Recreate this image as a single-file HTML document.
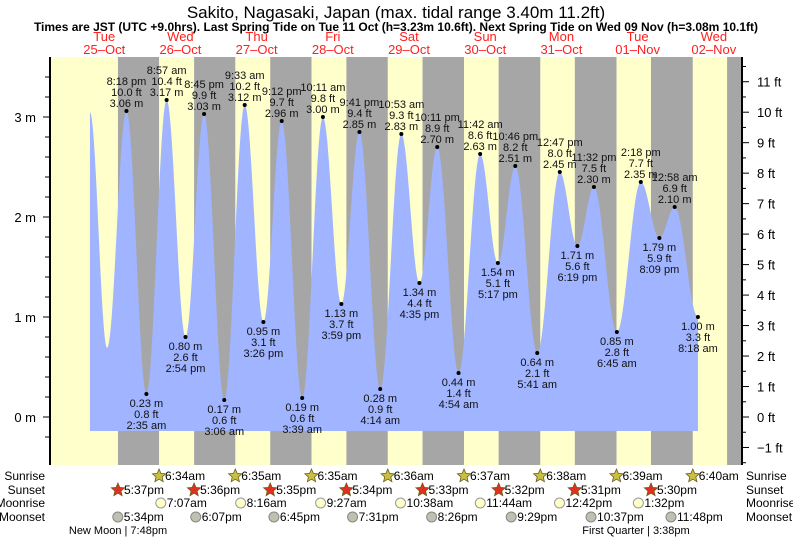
<!DOCTYPE html>
<html><head><meta charset="utf-8"><style>
body{margin:0;background:#fff;}
svg{display:block;font-family:"Liberation Sans",sans-serif;}
</style></head><body>
<svg id="c" width="793" height="539" viewBox="0 0 793 539" xmlns="http://www.w3.org/2000/svg">
<text x="396" y="18" font-size="17" text-anchor="middle" fill="#000">Sakito, Nagasaki, Japan (max. tidal range 3.40m 11.2ft)</text>
<text x="396" y="31" font-size="12" font-weight="bold" text-anchor="middle" fill="#000">Times are JST (UTC +9.0hrs). Last Spring Tide on Tue 11 Oct (h=3.23m 10.6ft). Next Spring Tide on Wed 09 Nov (h=3.08m 10.1ft)</text>
<g id="bands"></g><g id="fill"></g><g id="axes"></g><g id="labels"></g><g id="rows"></g>
</svg>
<script>
// tide events: hours since 25-Oct 00:00, heights in metres
const tideHours=[8.8,14.2,20.3,26.58,32.95,38.9,44.75,51.1,57.55,63.43,69.2,75.65,82.18,87.98,93.68,100.23,106.88,112.58,118.18,124.9,131.7,137.28,142.77,149.68,156.78,162.32,167.53,174.75,182.3,188.15,192.97,200.3];
const tideMetres=[3.05,0.69,3.06,0.23,3.17,0.80,3.03,0.17,3.12,0.95,2.96,0.19,3.00,1.13,2.85,0.28,2.83,1.34,2.70,0.44,2.63,1.54,2.51,0.64,2.45,1.71,2.30,0.85,2.35,1.79,2.10,1.00];
const tideTimes=["","","8:18 pm","2:35 am","8:57 am","2:54 pm","8:45 pm","3:06 am","9:33 am","3:26 pm","9:12 pm","3:39 am","10:11 am","3:59 pm","9:41 pm","4:14 am","10:53 am","4:35 pm","10:11 pm","4:54 am","11:42 am","5:17 pm","10:46 pm","5:41 am","12:47 pm","6:19 pm","11:32 pm","6:45 am","2:18 pm","8:09 pm","12:58 am","8:18 am"];
const dayNames=["Tue","Wed","Thu","Fri","Sat","Sun","Mon","Tue","Wed"];
const dayDates=["25-Oct","26-Oct","27-Oct","28-Oct","29-Oct","30-Oct","31-Oct","01-Nov","02-Nov"];
const sunriseH=[30.57,54.58,78.58,102.6,126.62,150.63,174.65,198.67];
const sunriseT=["6:34am","6:35am","6:35am","6:36am","6:37am","6:38am","6:39am","6:40am"];
const sunsetH=[17.62,41.6,65.58,89.57,113.55,137.53,161.52,185.5,209.48];
const sunsetT=["5:37pm","5:36pm","5:35pm","5:34pm","5:33pm","5:32pm","5:31pm","5:30pm",""];
const moonriseH=[31.12,56.27,81.45,106.63,131.73,156.7,181.53];
const moonriseT=["7:07am","8:16am","9:27am","10:38am","11:44am","12:42pm","1:32pm"];
const moonsetH=[17.57,42.12,66.75,91.52,116.43,141.48,166.62,191.8];
const moonsetT=["5:34pm","6:07pm","6:45pm","7:31pm","8:26pm","9:29pm","10:37pm","11:48pm"];
const mTicks=[0,1,2,3];
const ftTicks=[-1,0,1,2,3,4,5,6,7,8,9,10,11];

const NS="http://www.w3.org/2000/svg";
const X0=62,PXH=3.175,L=50,R=742,T=57,B=465;
const x=h=>X0+h*PXH;
const y=m=>417-m*100;
function el(tag,attrs,parent,txt){const e=document.createElementNS(NS,tag);for(const k in attrs)e.setAttribute(k,attrs[k]);if(txt!==undefined)e.textContent=txt;document.getElementById(parent).appendChild(e);return e;}

let e=el('rect',{x:L,y:T,width:R-L,height:B-T,fill:'#ffffcc'},'bands');


for(let i=0;i<sunsetH.length;i++){
  const a=Math.max(L,x(sunsetH[i]));const b=Math.min(R,i<sunriseH.length?x(sunriseH[i]):R);
  if(b>a){e=el('rect',{x:a,y:T,width:b-a,height:B-T,fill:'#a6a6a6'},'bands');
  
  }
}
let d=`M${x(tideHours[0])},431 L${x(tideHours[0])},${y(tideMetres[0])}`;
for(let i=0;i<tideHours.length-1;i++){
  const h0=tideHours[i],h1=tideHours[i+1],m0=tideMetres[i],m1=tideMetres[i+1];
  for(let s=1;s<=20;s++){const f=s/20;const m=m0+(m1-m0)*(1-Math.cos(Math.PI*f))/2;d+=` L${x(h0+(h1-h0)*f).toFixed(2)},${y(m).toFixed(2)}`;}
}
d+=` L${x(tideHours[tideHours.length-1])},431 Z`;
e=el('path',{d:d,fill:'#a0b4ff'},'fill');



el('line',{x1:L,y1:T,x2:L,y2:B,stroke:'#000','stroke-width':2},'axes');
el('line',{x1:R,y1:T,x2:R,y2:B,stroke:'#000','stroke-width':2},'axes');
for(let v=-0.2;v<=3.6;v+=0.2){const yy=y(v);if(yy<T||yy>B)continue;el('line',{x1:L-(Math.abs(v-Math.round(v))<0.01?7:5),y1:yy,x2:L,y2:yy,stroke:'#000'},'axes');}
mTicks.forEach(v=>{e=el('text',{x:36,y:y(v)+5,'font-size':13,'text-anchor':'end'},'axes',v+' m');

});
for(let f=-1.5;f<=11.5;f+=0.5){const yy=417-f*30.48;if(yy<T||yy>B)continue;el('line',{x1:R,y1:yy,x2:R+(f%1===0?7:4),y2:yy,stroke:'#000'},'axes');}
ftTicks.forEach(f=>{e=el('text',{x:757,y:417-f*30.48+5,'font-size':13},'axes',(f<0?'\u22121':f)+' ft');

});
dayNames.forEach((n,i)=>{const xx=x(i*24+13.3);
e=el('text',{x:xx,y:41,'font-size':13,'text-anchor':'middle',fill:'#ff2020'},'axes',n);


e=el('text',{x:xx,y:54,'font-size':13,'text-anchor':'middle',fill:'#ff2020'},'axes',dayDates[i].replace('-','\u2013'));

});

for(let i=2;i<tideHours.length;i++){
  const xx=x(tideHours[i]),yy=y(tideMetres[i]),m=tideMetres[i];const ft=(m*3.28084).toFixed(1)+' ft';const ms=m.toFixed(2)+' m';
  e=el('circle',{cx:xx,cy:yy,r:2,fill:'#000'},'labels');
  
  
  const high=(i%2===0);
  const lines=high?[tideTimes[i],ft,ms]:[ms,ft,tideTimes[i]];
  lines.forEach((t,k)=>{const ty=high?yy-4-(2-k)*11:yy+13+k*11;
    e=el('text',{x:xx,y:ty,'font-size':11,'text-anchor':'middle',fill:'#111'},'labels',t);
    
    });
}

const rowY=[480,494,507,521];const rowN=["Sunrise","Sunset","Moonrise","Moonset"];
rowN.forEach((n,i)=>{e=el('text',{x:45,y:rowY[i],'font-size':12,'text-anchor':'end'},'rows',n);


e=el('text',{x:746,y:rowY[i],'font-size':12},'rows',n);

});
function star(cx,cy,fill){let p='';for(let k=0;k<10;k++){const r=k%2?3.2:7;const a=-Math.PI/2+k*Math.PI/5;p+=(cx+r*Math.cos(a)).toFixed(1)+','+(cy+r*Math.sin(a)).toFixed(1)+' ';}return el('polygon',{points:p,fill:fill,stroke:'#6b5b1f','stroke-width':0.8},'rows');}
sunriseH.forEach((h,i)=>{e=star(x(h),rowY[0]-4,'#c8c040');


e=el('text',{x:x(h)+6,y:rowY[0],'font-size':12},'rows',sunriseT[i]);

});
sunsetH.forEach((h,i)=>{if(!sunsetT[i])return;e=star(x(h),rowY[1]-4,'#e03020');


e=el('text',{x:x(h)+6,y:rowY[1],'font-size':12},'rows',sunsetT[i]);

});
moonriseH.forEach((h,i)=>{e=el('circle',{cx:x(h),cy:rowY[2]-4,r:5,fill:'#ffffc8',stroke:'#999'},'rows');


e=el('text',{x:x(h)+6,y:rowY[2],'font-size':12},'rows',moonriseT[i]);

});
moonsetH.forEach((h,i)=>{e=el('circle',{cx:x(h),cy:rowY[3]-4,r:5,fill:'#c0c0b0',stroke:'#888'},'rows');


e=el('text',{x:x(h)+6,y:rowY[3],'font-size':12},'rows',moonsetT[i]);

});
e=el('text',{x:118,y:534,'font-size':11,'text-anchor':'middle'},'rows','New Moon | 7:48pm');


e=el('text',{x:636,y:534,'font-size':11,'text-anchor':'middle'},'rows','First Quarter | 3:38pm');


</script>
</body></html>
